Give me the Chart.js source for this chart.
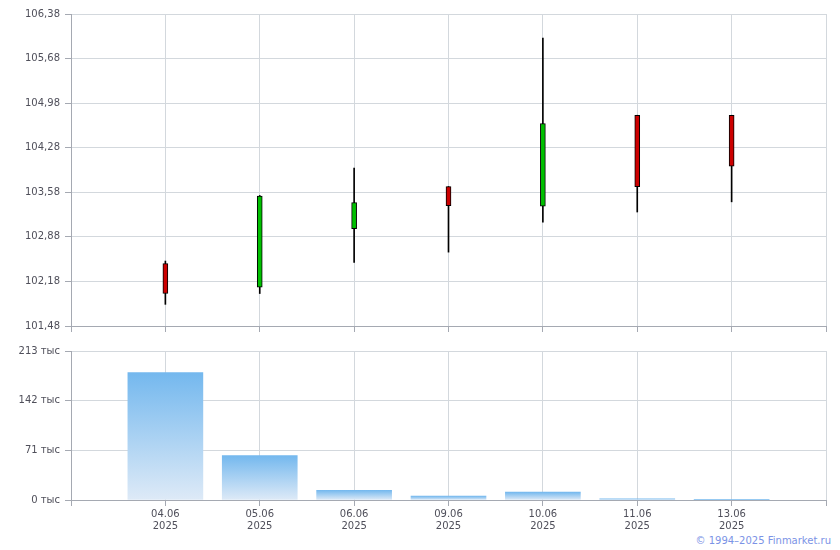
<!DOCTYPE html>
<html>
<head>
<meta charset="utf-8">
<script src="https://cdn.jsdelivr.net/npm/chart.js@4"></script>
<style>
  body { margin: 0; background: #fff; }
  #wrap { position: relative; width: 840px; height: 550px; }
  #priceChart { position: absolute; left: 0; top: 0; }
  #volChart { position: absolute; left: 0; top: 340px; }
  #copy {
    position: absolute; right: 9px; top: 535px;
    font: 10px "DejaVu Sans", Verdana, sans-serif; color: #7b93e6;
  }
</style>
</head>
<body>
<div id="wrap">
  <canvas id="priceChart" width="840" height="340"></canvas>
  <canvas id="volChart" width="840" height="195"></canvas>
  <div id="copy">© 1994–2025 Finmarket.ru</div>
</div>
<script>
// ─── data ──────────────────────────────────────────────────
const dates = ['04.06', '05.06', '06.06', '09.06', '10.06', '11.06', '13.06'];
const year = '2025';
const openP  = [102.46, 102.09, 103.01, 103.67, 103.36, 104.79, 104.79];
const highP  = [102.50, 103.53, 103.96, 103.67, 106.00, 104.79, 104.79];
const lowP   = [101.82, 101.99, 102.48, 102.64, 103.11, 103.27, 103.43];
const closeP = [101.99, 103.52, 103.42, 103.37, 104.66, 103.67, 103.99];
const volume = [182000, 63500, 14000, 5600, 11300, 1500, 600];

const priceTicks = [101.48, 102.18, 102.88, 103.58, 104.28, 104.98, 105.68, 106.38];
const volTicks = [0, 71000, 142000, 213000];

// empty slot at each end of the x axis
const labels = ['', ...dates, ''];
const pad = arr => [null, ...arr, null];

const FONT = { family: '"DejaVu Sans", Verdana, sans-serif', size: 10 };
const TXT = '#4f4f5a';
const GRID = '#d3d8dd';
const AXIS = '#a5a9b2';

Chart.defaults.font = FONT;
Chart.defaults.color = TXT;
Chart.defaults.animation = false;

function xScale(showLabels, h) {
  return {
    offset: false,
    grid: { offset: false, color: GRID, tickColor: AXIS, tickLength: 6 },
    border: { color: AXIS },
    ticks: {
      autoSkip: false, maxRotation: 0, padding: 2,
      callback: (v, i) => showLabels && labels[i] ? [labels[i], year] : ''
    },
    afterFit: s => { s.height = h; }
  };
}

function yScale(ticks, fmt) {
  return {
    min: ticks[0], max: ticks[ticks.length - 1],
    grid: { color: GRID, tickColor: AXIS, tickLength: 6 },
    border: { color: AXIS },
    afterBuildTicks: s => { s.ticks = ticks.map(v => ({ value: v })); },
    ticks: { padding: 5, callback: fmt },
    afterFit: s => { s.width = 71; }
  };
}

// ─── 1) candles: wick = low..high, body = open..close ─────
new Chart(document.getElementById('priceChart'), {
  type: 'bar',
  data: {
    labels,
    datasets: [
      {
        data: pad(lowP.map((l, i) => [l, highP[i]])),
        backgroundColor: '#000',
        barThickness: 1,
        grouped: false,
        order: 2
      },
      {
        data: pad(openP.map((o, i) => [o, closeP[i]])),
        backgroundColor: pad(openP.map((o, i) => closeP[i] >= o ? '#00c000' : '#cc0000')),
        borderColor: '#000',
        borderWidth: 1,
        borderSkipped: false,
        barThickness: 5,
        grouped: false,
        order: 1
      }
    ]
  },
  options: {
    responsive: false,
    maintainAspectRatio: false,
    layout: { padding: { top: 14, right: 14, left: 0, bottom: 0 } },
    plugins: { legend: { display: false }, tooltip: { enabled: false } },
    scales: {
      x: xScale(false, 14),
      y: yScale(priceTicks, v => v.toFixed(2).replace('.', ','))
    }
  }
});

// ─── 2) volume bars with per-bar vertical gradient ────────
function volFill(ctx) {
  const chart = ctx.chart;
  const y = chart.scales.y;
  if (!y || ctx.raw == null) return '#8cc4f0';
  const top = y.getPixelForValue(ctx.raw);
  const bottom = y.getPixelForValue(0);
  const g = chart.ctx.createLinearGradient(0, top, 0, bottom);
  g.addColorStop(0, '#74b8ee');
  g.addColorStop(1, '#deeaf7');
  return g;
}

new Chart(document.getElementById('volChart'), {
  type: 'bar',
  data: {
    labels,
    datasets: [{
      data: pad(volume),
      backgroundColor: volFill,
      barThickness: 75
    }]
  },
  options: {
    responsive: false,
    maintainAspectRatio: false,
    layout: { padding: { top: 8, right: 14, left: 0, bottom: 0 } },
    plugins: { legend: { display: false }, tooltip: { enabled: false } },
    scales: {
      x: xScale(true, 35),
      y: yScale(volTicks, v => (v / 1000) + ' тыс')
    }
  }
});
</script>
</body>
</html>
